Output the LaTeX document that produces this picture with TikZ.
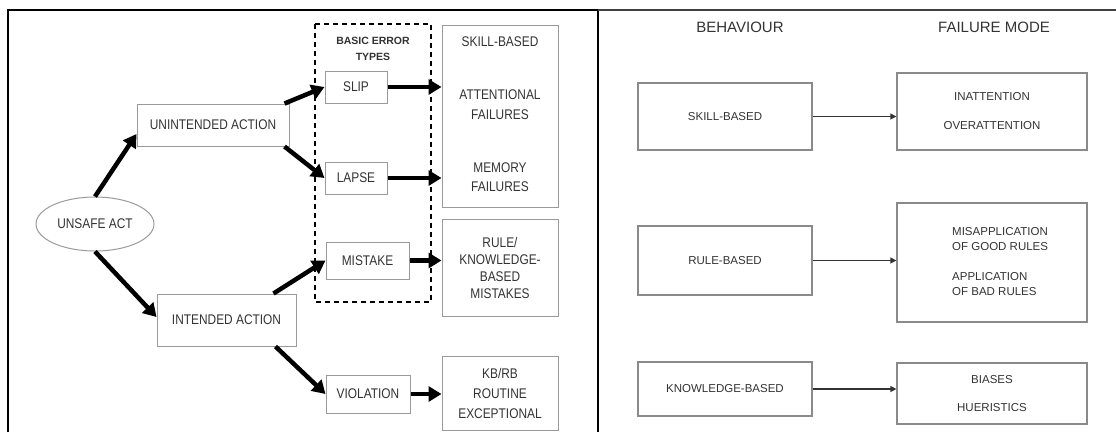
\documentclass[tikz,border=0pt]{standalone}
\usepackage{fontspec}
\setmainfont{Liberation Sans}
\newfontfamily\nrwfont[FakeStretch=0.85]{Liberation Sans}
\usetikzlibrary{arrows.meta,shapes.geometric}
\definecolor{txt}{HTML}{333333}
\definecolor{lgray}{HTML}{9A9A9A}
\definecolor{rgray}{HTML}{8A8A8A}
\newcommand\LeftFont{\nrwfont\fontsize{14}{17}\selectfont}
\newcommand\RightFont{\fontsize{11.5}{14}\selectfont}
\newcommand\HeadFont{\fontsize{15}{18}\selectfont}
\begin{document}
\begin{tikzpicture}[x=1pt,y=-1pt,
  lbox/.style={draw=lgray, line width=1pt, inner sep=0pt, font=\LeftFont, text=txt, align=center},
  rbox/.style={draw=rgray, line width=1.2pt, inner sep=0pt, font=\RightFont, text=txt, align=center},
  ltext/.style={font=\LeftFont, text=txt, align=center, inner sep=0pt},
  rtext/.style={font=\RightFont, text=txt, inner sep=0pt},
  htext/.style={font=\HeadFont, text=txt, inner sep=0pt},
  bigarrow/.style={line width=4.5pt, -{Triangle[length=13pt,width=15pt]}},
  thinarrow/.style={line width=1.2pt, draw=black!80, -{Triangle[length=6pt,width=6pt]}},
]
\useasboundingbox (0,0) rectangle (1116,432);
\fill[white] (0,0) rectangle (1116,432);

% frame
\draw[line width=1.5pt] (8,432) -- (8,10) -- (598,10);
\draw[line width=2.5pt] (598,10) -- (598,432);
\draw[line width=1.3pt, black!75] (598,10) -- (1116,10);

% ---------- left panel ----------
\draw[line width=1.5pt, dash pattern=on 5pt off 4pt] (315,24) rectangle (431,302);
\node[ltext, font=\bfseries\fontsize{10.5}{16}\selectfont] (bet) at (373,49) {BASIC ERROR\\TYPES};

\node[lbox, ellipse, minimum width=118pt, minimum height=54pt] (act) at (95,224) {UNSAFE ACT};
\node[lbox, minimum width=152pt, minimum height=42pt] (ua) at (213,125) {UNINTENDED ACTION};
\node[lbox, minimum width=139pt, minimum height=52pt] (ia) at (226.5,320) {INTENDED ACTION};
\node[lbox, minimum width=62pt, minimum height=32pt] (slip) at (356,87) {SLIP};
\node[lbox, minimum width=62pt, minimum height=32pt] (lapse) at (356,178) {LAPSE};
\node[lbox, minimum width=83pt, minimum height=37pt] (mistake) at (367.5,260.5) {MISTAKE};
\node[lbox, minimum width=84pt, minimum height=38pt] (viol) at (368,394) {VIOLATION};

\node[lbox, minimum width=116pt, minimum height=182pt] (sbx) at (500,116) {};
\node[ltext] (sbt) at (500,42) {SKILL-BASED};
\node[ltext, font=\nrwfont\fontsize{14}{20}\selectfont] (att) at (500,105) {ATTENTIONAL\\FAILURES};
\node[ltext, font=\nrwfont\fontsize{14}{19}\selectfont] (mem) at (500,177.5) {MEMORY\\FAILURES};
\node[lbox, minimum width=116pt, minimum height=97pt, font=\nrwfont\fontsize{14}{17}\selectfont] (rule) at (500,267.5) {RULE/\\KNOWLEDGE-\\BASED\\MISTAKES};
\node[lbox, minimum width=116pt, minimum height=74pt, font=\nrwfont\fontsize{14}{20}\selectfont] (kbrb) at (500,393) {KB/RB\\ROUTINE\\EXCEPTIONAL};

\draw[bigarrow] (act.north) -- ([yshift=-9pt]ua.west);
\draw[bigarrow] (act.south) -- ([yshift=3pt]ia.west);
\draw[bigarrow] ([xshift=-5pt]ua.north east) -- (slip.west);
\draw[bigarrow] ([xshift=-5pt]ua.south east) -- (lapse.west);
\draw[bigarrow] ([xshift=-23pt]ia.north east) -- (mistake.west);
\draw[bigarrow] ([xshift=-21pt]ia.south east) -- (viol.west);
\draw[bigarrow] (slip.east) -- (slip.east -| sbx.west);
\draw[bigarrow] (lapse.east) -- (lapse.east -| sbx.west);
\draw[bigarrow] (mistake.east) -- (mistake.east -| rule.west);
\draw[bigarrow] (viol.east) -- (viol.east -| kbrb.west);

% ---------- right panel ----------
\node[htext] (beh) at (740,27) {BEHAVIOUR};
\node[htext] (fm) at (994,27) {FAILURE MODE};

\node[rbox, minimum width=174pt, minimum height=67pt] (sb) at (725,116.5) {SKILL-BASED};
\node[rbox, minimum width=190pt, minimum height=77pt, font=\fontsize{11.5}{29}\selectfont] (f1) at (992,111.5) {INATTENTION\\OVERATTENTION};
\node[rbox, minimum width=174pt, minimum height=69pt] (rb) at (725,260.5) {RULE-BASED};
\node[rbox, minimum width=190pt, minimum height=119pt] (f2) at (992,262.5) {};
\node[rtext, align=left, anchor=west, font=\fontsize{11.5}{15.5}\selectfont] (f2t) at (952,261.5) {MISAPPLICATION\\OF GOOD RULES\\[14pt]APPLICATION\\OF BAD RULES};
\node[rbox, minimum width=174pt, minimum height=54pt] (kb) at (725,389) {KNOWLEDGE-BASED};
\node[rbox, minimum width=190pt, minimum height=61pt, font=\fontsize{11.5}{28}\selectfont] (f3) at (992,393.5) {BIASES\\HUERISTICS};

\draw[thinarrow] (sb.east) -- (sb.east -| f1.west);
\draw[thinarrow] (rb.east) -- (rb.east -| f2.west);
\draw[thinarrow] (kb.east) -- (kb.east -| f3.west);
\end{tikzpicture}
\end{document}
